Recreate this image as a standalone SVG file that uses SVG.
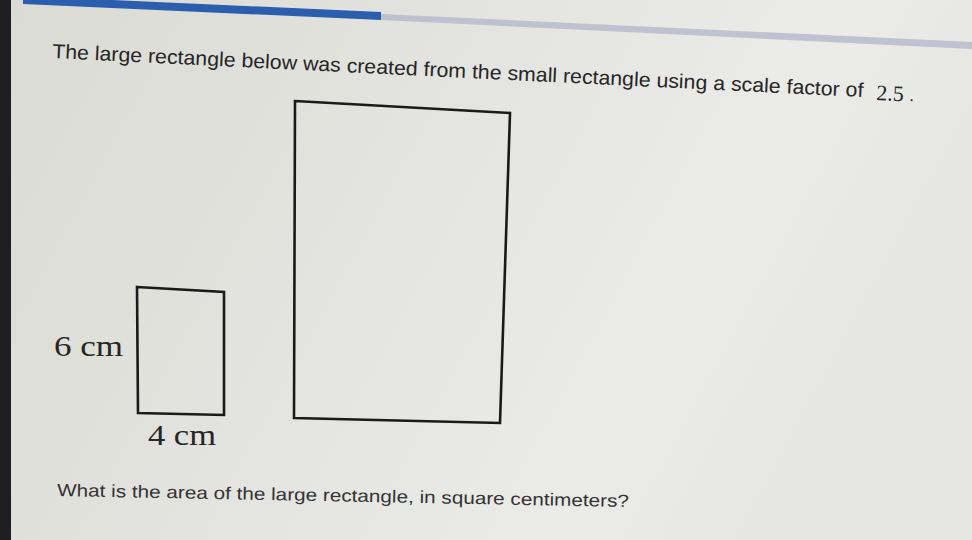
<svg xmlns="http://www.w3.org/2000/svg" width="972" height="540" viewBox="0 0 972 540">
<defs>
<linearGradient id="bg" x1="0" y1="0" x2="1" y2="0.3">
<stop offset="0" stop-color="#dbdbd5"/>
<stop offset="0.45" stop-color="#e3e3df"/>
<stop offset="0.8" stop-color="#ebebe8"/>
<stop offset="1" stop-color="#e6e6e3"/>
</linearGradient>
<style>
.sans{font-family:"Liberation Sans",Arial,sans-serif;fill:#262626}
.serif{font-family:"Liberation Serif","Times New Roman",serif;fill:#262626}
.shape{fill:none;stroke:#1a1a1a;stroke-width:2.6;stroke-linejoin:miter}
</style>
</defs>
<rect width="972" height="540" fill="url(#bg)"/>
<rect x="0" y="0" width="11" height="540" fill="#1f1f22"/>
<polygon points="23,-4 381,12 381,20 23,4" fill="#2b5fae"/>
<polygon points="381,14 972,42 972,49 381,20" fill="#b4b8cb" opacity="0.8"/>
<g id="title">
<text class="sans" font-size="20" transform="translate(52,58) rotate(2.75)" textLength="812" lengthAdjust="spacingAndGlyphs">The large rectangle below was created from the small rectangle using a scale factor of</text>
<text class="serif" font-size="22" transform="translate(876,100) rotate(2.6)">2.5</text>
<text class="sans" font-size="18" transform="translate(909,101) rotate(2.6)">.</text>
</g>
<g id="small-rect">
<polygon class="shape" points="137,287 224,292 224,415 138,413"/>
<text class="serif" font-size="29" x="54" y="356" textLength="69" lengthAdjust="spacingAndGlyphs">6 cm</text>
<text class="serif" font-size="29" x="148" y="445" textLength="68" lengthAdjust="spacingAndGlyphs">4 cm</text>
</g>
<g id="large-rect">
<polygon class="shape" points="295,101 510,113 500,423 294,418"/>
</g>
<g id="question">
<text class="sans" font-size="17.5" fill="#333" style="fill:#333" transform="translate(57,496) rotate(1.1)" textLength="572" lengthAdjust="spacingAndGlyphs">What is the area of the large rectangle, in square centimeters?</text>
</g>
</svg>
